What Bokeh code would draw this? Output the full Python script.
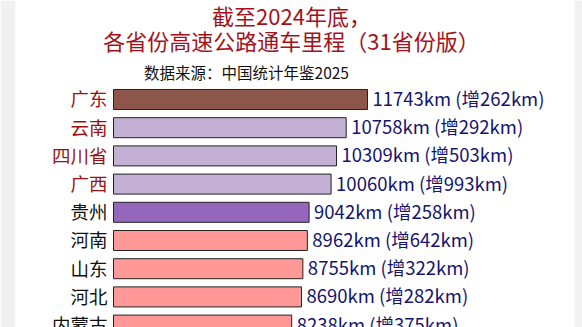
from bokeh.plotting import figure
from bokeh.models import ColumnDataSource, Range1d, Label
from bokeh.core.properties import value
from bokeh.embed import file_html
from bokeh.resources import INLINE

# ---- data ----
provinces = ["广东", "云南", "四川省", "广西", "贵州", "河南", "山东", "河北", "内蒙古"]
mileage_km = [11743, 10758, 10309, 10060, 9042, 8962, 8755, 8690, 8238]
increase_km = [262, 292, 503, 993, 258, 642, 322, 282, 375]
title_lines = ["截至2024年底，", "各省份高速公路通车里程（31省份版）"]
source_text = "数据来源：中国统计年鉴2025"

# ---- styles ----
bar_colors = ["#8c564b", "#c5b0d5", "#c5b0d5", "#c5b0d5", "#9467bd",
              "#ff9896", "#ff9896", "#ff9896", "#ff9896"]
name_colors = ["#9b1010"] * 4 + ["#111111"] * 5
FONT = "Noto Sans CJK SC"

ys = [-i for i in range(len(provinces))]
labels = [f"{m}km (增{d}km)" for m, d in zip(mileage_km, increase_km)]

src = ColumnDataSource(dict(
    y=ys, right=mileage_km, name=provinces, label=labels,
    bar_color=bar_colors, name_color=name_colors,
    zero=[0] * len(provinces),
))

p = figure(width=582, height=327, output_backend="svg", toolbar_location=None,
           x_range=Range1d(-4531, 21313), y_range=Range1d(-8.085, 3.51),
           min_border_left=15, min_border_right=8, min_border_top=0, min_border_bottom=0)
p.axis.visible = False
p.grid.visible = False
p.outline_line_color = None
p.border_fill_color = "#f1f1f1"
p.background_fill_color = "white"

p.hbar(y="y", left="zero", right="right", height=0.71, source=src,
       fill_color="bar_color", line_color="#222222", line_width=1)

p.text(x="zero", y="y", text="name", source=src, x_offset=-6, y_offset=-1,
       text_align="right", text_baseline="middle", text_color="name_color",
       text_font=value(FONT), text_font_size="18.5px")

p.text(x="right", y="y", text="label", source=src, x_offset=5, y_offset=-1.5,
       text_align="left", text_baseline="middle", text_color="#141470",
       text_font=value(FONT), text_font_size="18.5px")

p.add_layout(Label(x=276, y=313, x_units="screen", y_units="screen", text=title_lines[0],
                   text_align="center", text_baseline="middle", text_color="#a3121c",
                   text_font=FONT, text_font_size="22px", text_font_style="normal"))
p.add_layout(Label(x=276, y=288, x_units="screen", y_units="screen", text=title_lines[1],
                   text_align="center", text_baseline="middle", text_color="#a3121c",
                   text_font=FONT, text_font_size="22px", text_font_style="normal"))
p.add_layout(Label(x=231, y=256, x_units="screen", y_units="screen", text=source_text,
                   text_align="center", text_baseline="middle", text_color="#111111",
                   text_font=FONT, text_font_size="15.5px"))

open("out.html", "w").write(file_html(p, INLINE))
